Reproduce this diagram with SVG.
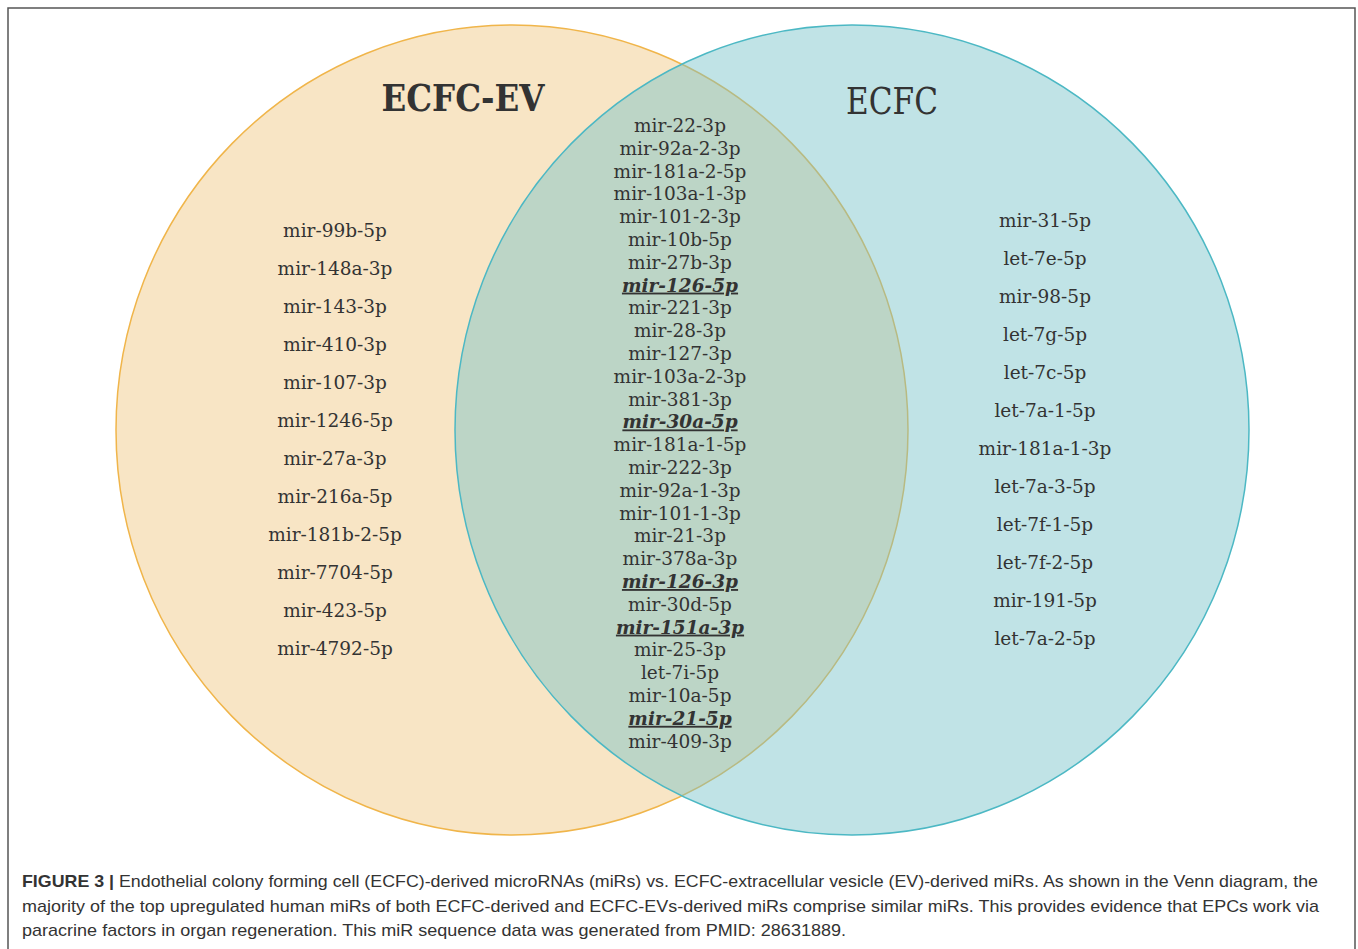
<svg xmlns="http://www.w3.org/2000/svg" width="1358" height="949" viewBox="0 0 1358 949">
<style>
.mi{font-family:"DejaVu Serif","Liberation Serif",serif;font-size:18.5px;fill:#333;text-anchor:middle}
.u{font-weight:bold;font-style:italic;text-decoration:underline}
.cap{font-family:"Liberation Sans",Arial,sans-serif;font-size:17px;fill:#333}
</style>
<rect x="0" y="0" width="1358" height="949" fill="#fff"/>
<rect x="8" y="8" width="1347" height="960" fill="none" stroke="#555" stroke-width="1.5"/>
<g id="ecfc-ev">
<ellipse cx="512" cy="430" rx="396" ry="405" fill="#f8e5c5" stroke="#f0b54a" stroke-width="1.5"/>
</g>
<g id="ecfc">
<ellipse cx="852" cy="430" rx="397" ry="405" fill="rgb(115,193,200)" fill-opacity="0.45" stroke="#4cb8c4" stroke-width="1.5"/>
</g>
<g id="titles">
<text x="463" y="111" font-family="DejaVu Serif,serif" font-size="38" font-weight="bold" fill="#333" text-anchor="middle" textLength="163" lengthAdjust="spacingAndGlyphs">ECFC-EV</text>
<text x="892" y="114" font-family="DejaVu Serif,serif" font-size="38" fill="#333" text-anchor="middle" textLength="92" lengthAdjust="spacingAndGlyphs">ECFC</text>
</g>
<g id="left-list" class="mi">
<text x="335" y="237">mir-99b-5p</text>
<text x="335" y="275">mir-148a-3p</text>
<text x="335" y="313">mir-143-3p</text>
<text x="335" y="351">mir-410-3p</text>
<text x="335" y="389">mir-107-3p</text>
<text x="335" y="427">mir-1246-5p</text>
<text x="335" y="465">mir-27a-3p</text>
<text x="335" y="503">mir-216a-5p</text>
<text x="335" y="541">mir-181b-2-5p</text>
<text x="335" y="579">mir-7704-5p</text>
<text x="335" y="617">mir-423-5p</text>
<text x="335" y="655">mir-4792-5p</text>
</g>
<g id="right-list" class="mi">
<text x="1045" y="227">mir-31-5p</text>
<text x="1045" y="265">let-7e-5p</text>
<text x="1045" y="303">mir-98-5p</text>
<text x="1045" y="341">let-7g-5p</text>
<text x="1045" y="379">let-7c-5p</text>
<text x="1045" y="417">let-7a-1-5p</text>
<text x="1045" y="455">mir-181a-1-3p</text>
<text x="1045" y="493">let-7a-3-5p</text>
<text x="1045" y="531">let-7f-1-5p</text>
<text x="1045" y="569">let-7f-2-5p</text>
<text x="1045" y="607">mir-191-5p</text>
<text x="1045" y="645">let-7a-2-5p</text>
</g>
<g id="shared-list" class="mi">
<text x="680" y="132">mir-22-3p</text>
<text x="680" y="154.8">mir-92a-2-3p</text>
<text x="680" y="177.6">mir-181a-2-5p</text>
<text x="680" y="200.4">mir-103a-1-3p</text>
<text x="680" y="223.2">mir-101-2-3p</text>
<text x="680" y="246">mir-10b-5p</text>
<text x="680" y="268.8">mir-27b-3p</text>
<text x="680" y="291.6" class="u">mir-126-5p</text>
<text x="680" y="314.4">mir-221-3p</text>
<text x="680" y="337.2">mir-28-3p</text>
<text x="680" y="360">mir-127-3p</text>
<text x="680" y="382.8">mir-103a-2-3p</text>
<text x="680" y="405.6">mir-381-3p</text>
<text x="680" y="428.4" class="u">mir-30a-5p</text>
<text x="680" y="451.2">mir-181a-1-5p</text>
<text x="680" y="474">mir-222-3p</text>
<text x="680" y="496.8">mir-92a-1-3p</text>
<text x="680" y="519.6">mir-101-1-3p</text>
<text x="680" y="542.4">mir-21-3p</text>
<text x="680" y="565.2">mir-378a-3p</text>
<text x="680" y="588" class="u">mir-126-3p</text>
<text x="680" y="610.8">mir-30d-5p</text>
<text x="680" y="633.6" class="u">mir-151a-3p</text>
<text x="680" y="656.4">mir-25-3p</text>
<text x="680" y="679.2">let-7i-5p</text>
<text x="680" y="702">mir-10a-5p</text>
<text x="680" y="724.8" class="u">mir-21-5p</text>
<text x="680" y="747.6">mir-409-3p</text>
</g>
<g id="caption" class="cap">
<text x="22" y="887" textLength="1296" lengthAdjust="spacingAndGlyphs"><tspan font-weight="bold">FIGURE 3 |</tspan> Endothelial colony forming cell (ECFC)-derived microRNAs (miRs) vs. ECFC-extracellular vesicle (EV)-derived miRs. As shown in the Venn diagram, the</text>
<text x="22" y="912" textLength="1297" lengthAdjust="spacingAndGlyphs">majority of the top upregulated human miRs of both ECFC-derived and ECFC-EVs-derived miRs comprise similar miRs. This provides evidence that EPCs work via</text>
<text x="22" y="936" textLength="824" lengthAdjust="spacingAndGlyphs">paracrine factors in organ regeneration. This miR sequence data was generated from PMID: 28631889.</text>
</g>
</svg>
